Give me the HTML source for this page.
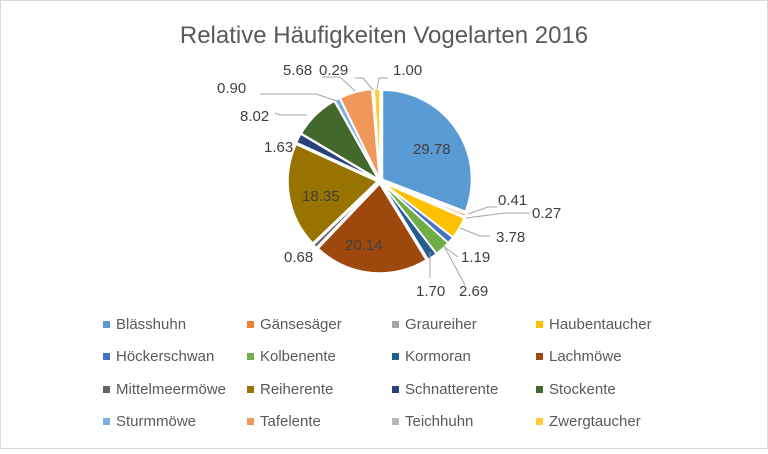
<!DOCTYPE html><html><head><meta charset="utf-8"><style>
body{margin:0;width:768px;height:449px;background:#fff;overflow:hidden;font-family:"Liberation Sans",sans-serif}
</style></head><body>
<svg id="s" width="768" height="449" xmlns="http://www.w3.org/2000/svg" font-family="Liberation Sans, sans-serif">
<rect x="0.5" y="0.5" width="767" height="448" fill="#fff" stroke="#d9d9d9"/>
<text x="384" y="43" text-anchor="middle" font-size="24" fill="#595959">Relative Häufigkeiten Vogelarten 2016</text>
<g id="pie"></g>
<g stroke="#a6a6a6" fill="none" stroke-width="1">
<polyline points="377,89 379,78 388,78"/>
<polyline points="373,90 363,78 355,78"/>
<polyline points="355,91 340,77 322,77"/>
<polyline points="337,101 316,94 260,94"/>
<polyline points="307,115 280,115 275,113"/>
<polyline points="468,214 488,207 497,207"/>
<polyline points="466,218 505,213 530,213"/>
<polyline points="460,228 480,236 490,236"/>
<polyline points="443,246 458,257"/>
<polyline points="444,246 465,285"/>
<polyline points="430,252 430,278"/>
</g>
<g font-size="15" fill="#404040">
<text x="319" y="75">0.29</text><text x="393" y="75">1.00</text>
<text x="283" y="75">5.68</text><text x="217" y="93">0.90</text>
<text x="240" y="121">8.02</text><text x="264" y="152">1.63</text>
<text x="498" y="205">0.41</text><text x="532" y="218">0.27</text>
<text x="496" y="242">3.78</text><text x="461" y="262">1.19</text>
<text x="459" y="296">2.69</text><text x="416" y="296">1.70</text>
<text x="284" y="262">0.68</text>
<text x="413" y="154">29.78</text><text x="302" y="201">18.35</text><text x="345" y="250">20.14</text>
</g>
<g id="leg" font-size="15" fill="#595959"></g>
</svg>
<script>
var d=[["Blässhuhn",29.78,"#5B9BD5"],["Gänsesäger",0.41,"#ED7D31"],["Graureiher",0.27,"#A5A5A5"],["Haubentaucher",3.78,"#FFC000"],["Höckerschwan",1.19,"#4472C4"],["Kolbenente",2.69,"#70AD47"],["Kormoran",1.70,"#255E91"],["Lachmöwe",20.14,"#9E480E"],["Mittelmeermöwe",0.68,"#636363"],["Reiherente",18.35,"#997300"],["Schnatterente",1.63,"#264478"],["Stockente",8.02,"#43682B"],["Sturmmöwe",0.90,"#7CAFDD"],["Tafelente",5.68,"#F1975A"],["Teichhuhn",0.29,"#B7B7B7"],["Zwergtaucher",1.00,"#FFCD33"]];
var tot=0;d.forEach(function(e){tot+=e[1]});
var cx=380,cy=181,r=89,a=0,h="";
d.forEach(function(e){var b=a+e[1]/tot*2*Math.PI,m=(a+b)/2,ox=cx+3*Math.sin(m),oy=cy-3*Math.cos(m);
var x1=ox+r*Math.sin(a),y1=oy-r*Math.cos(a),x2=ox+r*Math.sin(b),y2=oy-r*Math.cos(b);
h+='<path d="M'+ox+','+oy+'L'+x1+','+y1+'A'+r+','+r+' 0 '+(b-a>Math.PI?1:0)+' 1 '+x2+','+y2+'Z" fill="'+e[2]+'" stroke="#fff" stroke-width="1.5"/>';a=b;});
document.getElementById("pie").innerHTML=h;
var xs=[103,247,392,536],ys=[326,358,391,423],l="";
d.forEach(function(e,i){var x=xs[i%4],y=ys[Math.floor(i/4)];l+='<rect x="'+x+'" y="'+(y-5)+'" width="7" height="7" fill="'+e[2]+'"/><text x="'+(x+13)+'" y="'+(y+3)+'">'+e[0]+'</text>';});
document.getElementById("leg").innerHTML=l;
</script>
</body></html>
